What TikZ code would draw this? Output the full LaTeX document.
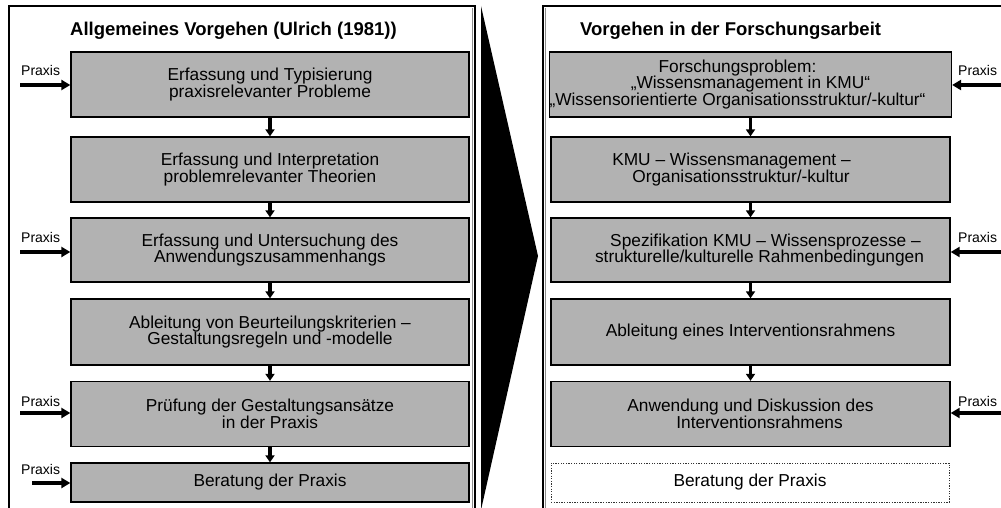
\documentclass[tikz,border=0pt]{standalone}
\usepackage{fontspec}
\setmainfont{Liberation Sans}
\usetikzlibrary{arrows.meta,calc}
\definecolor{boxgray}{RGB}{178,178,178}
\definecolor{rimgray}{RGB}{140,140,140}
\begin{document}
\begin{tikzpicture}[x=1pt,y=-1pt,
  stepbox/.style={draw=black,line width=1.3pt,fill=boxgray,minimum width=398pt,minimum height=65pt,inner sep=0pt,align=center,font=\fontsize{17.3}{16.8}\selectfont},
  openbox/.style={stepbox,draw=black!80,fill=white,line width=1pt,dash pattern=on 1.3pt off 1.3pt},
  frame/.style={draw=black,line width=1.4pt},
  downarr/.style={line width=3.2pt,-{Triangle[width=9pt,length=7pt]}},
  praxarr/.style={line width=3.6pt,-{Triangle[width=10pt,length=9pt]}},
  praxlbl/.style={inner sep=0pt,font=\fontsize{14}{16}\selectfont},
  titlelbl/.style={inner sep=0pt,anchor=base west,font=\bfseries\fontsize{18.5}{20}\selectfont}]
\useasboundingbox (0,0) rectangle (1001,508);
\clip (0,0) rectangle (1001,508);

% frames
\draw[frame] (9,520) -- (9,6) -- (475,6) -- (475,520);
\draw[rimgray,line width=1pt] (472.5,8) -- (472.5,520);
\draw[frame] (543,520) -- (543,6) -- (1010,6);
\draw[rimgray,line width=1pt] (545.5,8) -- (545.5,520);

% big black arrow
\fill[black] (481,6) -- (538,256) -- (481,510) -- cycle;

% titles
\node[titlelbl] (TL) at (70,35.7) {Allgemeines Vorgehen (Ulrich (1981))};
\node[titlelbl] (TR) at (580,35.7) {Vorgehen in der Forschungsarbeit};

% left column
\node[stepbox] (L1) at (270,84.5) {Erfassung und Typisierung\\praxisrelevanter Probleme};
\node[stepbox] (L2) at (270,169.5) {Erfassung und Interpretation\\problemrelevanter Theorien};
\node[stepbox,minimum height=64pt] (L3) at (270,250) {Erfassung und Untersuchung des\\Anwendungszusammenhangs};
\node[stepbox,minimum height=66pt] (L4) at (270,332) {Ableitung von Beurteilungskriterien --\\Gestaltungsregeln und -modelle};
\node[stepbox] (L5) at (270,414) {Prüfung der Gestaltungsansätze\\in der Praxis};
\node[stepbox,minimum height=39pt] (L6) at (270,482.5) {Beratung der Praxis};

% right column
\node[stepbox,minimum width=399pt] (R1) at (750.5,84.5) {Forschungsproblem:\hspace*{26pt}\\„Wissensmanagement in KMU“\hspace*{26pt}\\„Wissensorientierte Organisationsstruktur/-kultur“\hspace*{26pt}};
\node[stepbox,minimum width=399pt] (R2) at (750.5,169.5) {KMU -- Wissensmanagement --\hspace*{38pt}\\Organisationsstruktur/-kultur\hspace*{19pt}};
\node[stepbox,minimum width=399pt,minimum height=64pt] (R3) at (750.5,250) {\hspace*{30pt}Spezifikation KMU -- Wissensprozesse --\\\hspace*{18pt}strukturelle/kulturelle Rahmenbedingungen};
\node[stepbox,minimum width=399pt,minimum height=66pt] (R4) at (750.5,332) {Ableitung eines Interventionsrahmens};
\node[stepbox,minimum width=399pt] (R5) at (750.5,414) {Anwendung und Diskussion des\\\hspace*{18pt}Interventionsrahmens};
\node[openbox,minimum width=398pt,minimum height=39pt] (R6) at (750,482.5) {Beratung der Praxis};

% flow arrows
\foreach \a/\b in {L1/L2,L2/L3,L3/L4,L4/L5,L5/L6,R1/R2,R2/R3,R3/R4,R4/R5}
  \draw[downarr] (\a.south) -- (\b.north);

% Praxis inputs, left
\coordinate (pl1) at (20,85);
\coordinate (pl3) at (20,252);
\coordinate (pl5) at (20,413);
\coordinate (pl6) at (32,483);
\draw[praxarr] (pl1) -- (pl1 -| L1.west);
\draw[praxarr] (pl3) -- (pl3 -| L3.west);
\draw[praxarr] (pl5) -- (pl5 -| L5.west);
\draw[praxarr] (pl6) -- (pl6 -| L6.west);
\node[praxlbl,anchor=base west] (xl1) at (21,76) {Praxis};
\node[praxlbl,anchor=base west] (xl3) at (21,242.5) {Praxis};
\node[praxlbl,anchor=base west] (xl5) at (21,406.5) {Praxis};
\node[praxlbl,anchor=base west] (xl6) at (21,474.5) {Praxis};

% Praxis inputs, right
\coordinate (pr1) at (1008,85);
\coordinate (pr3) at (1008,252);
\coordinate (pr5) at (1008,413);
\draw[praxarr] (pr1) -- (pr1 -| R1.east);
\draw[praxarr] (pr3) -- (pr3 -| R3.east);
\draw[praxarr] (pr5) -- (pr5 -| R5.east);
\node[praxlbl,anchor=base west] (xr1) at (958,76) {Praxis};
\node[praxlbl,anchor=base west] (xr3) at (958,242.5) {Praxis};
\node[praxlbl,anchor=base west] (xr5) at (958,406.5) {Praxis};
\end{tikzpicture}
\end{document}
